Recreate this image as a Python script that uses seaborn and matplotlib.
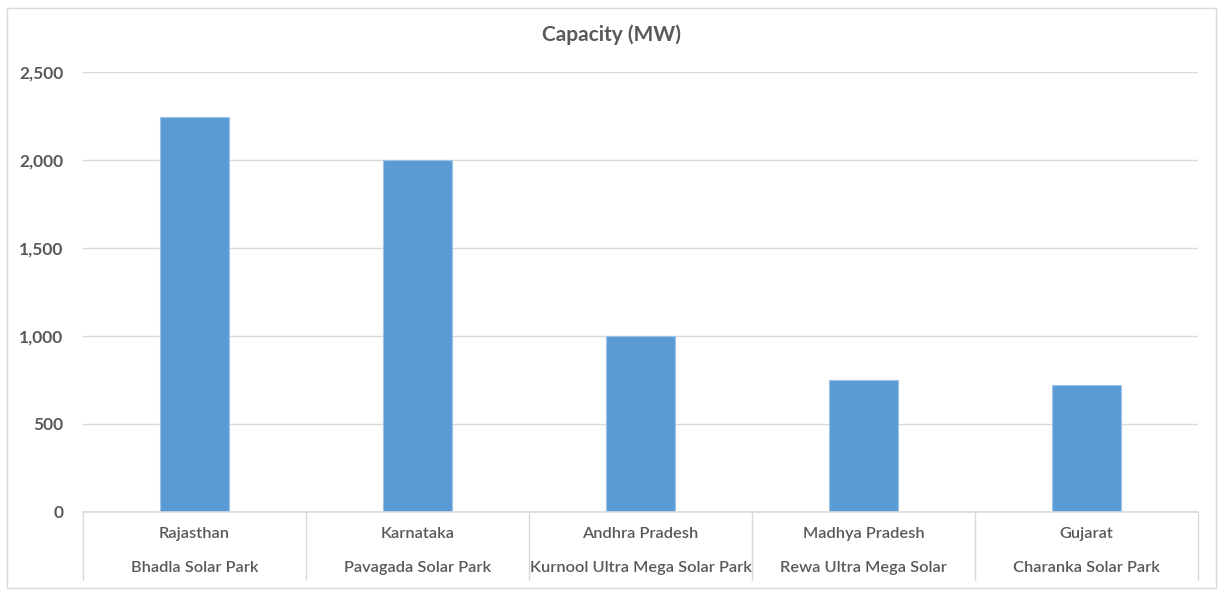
import matplotlib
matplotlib.use("Agg")
import matplotlib.pyplot as plt
import seaborn as sns
import pandas as pd
from matplotlib.patches import Rectangle
from matplotlib.ticker import FuncFormatter

states = ["Rajasthan", "Karnataka", "Andhra Pradesh", "Madhya Pradesh", "Gujarat"]
parks = ["Bhadla Solar Park", "Pavagada Solar Park", "Kurnool Ultra Mega Solar Park",
         "Rewa Ultra Mega Solar", "Charanka Solar Park"]
capacity = [2245, 2000, 1000, 750, 720]
yticks = [0, 500, 1000, 1500, 2000, 2500]
title = "Capacity (MW)"

sns.set_theme(style="white")
plt.rcParams["font.family"] = ["Lato", "DejaVu Sans"]

TXT = "#595959"
GRID = "#D9D9D9"
BAR = "#5B9BD5"

df = pd.DataFrame({"cat": [f"{s}|{p}" for s, p in zip(states, parks)], "val": capacity})

fig = plt.figure(figsize=(12.24, 5.96), dpi=100)
ax = fig.add_axes([83/1224, 1-512/596, (1198-83)/1224, 440/596])
sns.barplot(data=df, x="cat", y="val", color=BAR, width=0.31, ax=ax,
            edgecolor="#9DC3E6", linewidth=0.8, saturation=1)

ax.set_ylim(0, 2500)
ax.set_xlim(-0.5, len(states) - 0.5)
ax.set_yticks(yticks)
ax.yaxis.set_major_formatter(FuncFormatter(lambda v, p: f"{int(v):,}"))
ax.tick_params(axis="y", length=0, pad=14, labelsize=12.5, labelcolor=TXT)
for lab in ax.get_yticklabels():
    lab.set_fontweight("bold")
ax.set_xticks([])
ax.set_xlabel("")
ax.set_ylabel("")
for s in ax.spines.values():
    s.set_visible(False)
ax.grid(axis="y", color=GRID, linewidth=1)
ax.set_axisbelow(True)
ax.axhline(0, color=GRID, linewidth=1.2, clip_on=False)

trans = ax.get_xaxis_transform()
for i, (s, p) in enumerate(zip(states, parks)):
    ax.text(i, (512-534)/440, s, transform=trans, ha="center", va="center",
            fontsize=11.8, color=TXT, fontweight=600)
    ax.text(i, (512-568)/440, p, transform=trans, ha="center", va="center",
            fontsize=11.8, color=TXT, fontweight=600)
for i in range(len(states) + 1):
    ax.plot([i - 0.5, i - 0.5], [0, (512-580)/440], transform=trans,
            color=GRID, linewidth=1, clip_on=False)

fig.text(612/1224, 1-35/596, title, ha="center", va="center", fontsize=15,
         fontweight="bold", color=TXT)

fig.patches.append(Rectangle((7/1224, 1-588/596), (1216-7)/1224, (588-8)/596,
                             transform=fig.transFigure, fill=False,
                             edgecolor=GRID, linewidth=1))

fig.savefig("out.png", dpi=100)
